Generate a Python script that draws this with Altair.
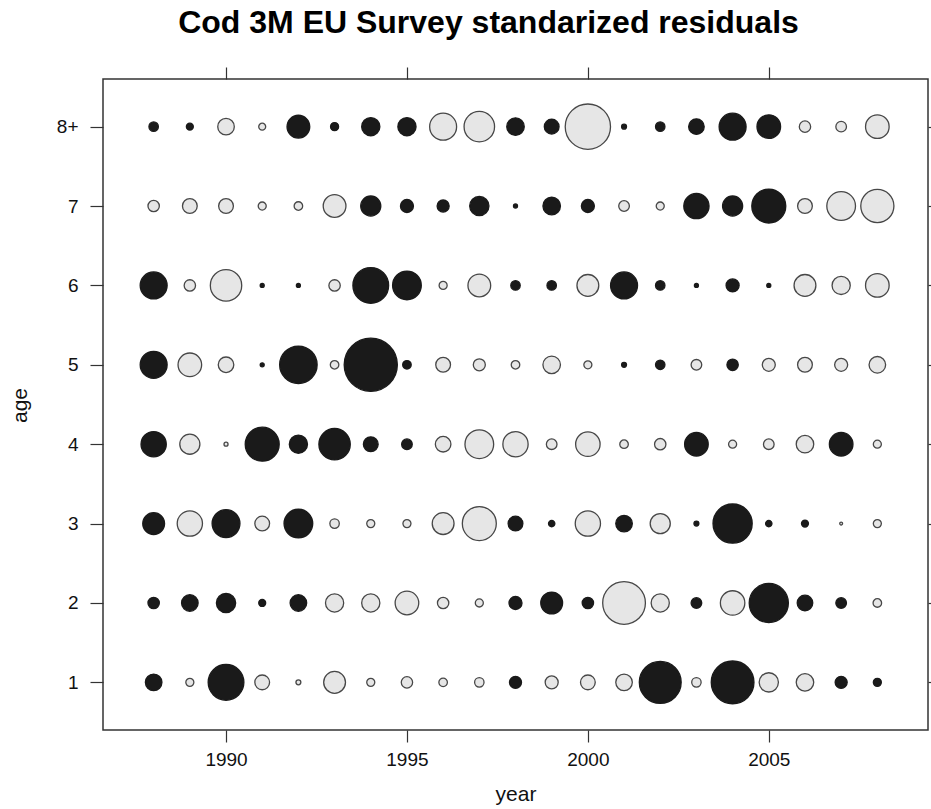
import altair as alt
import pandas as pd

# Survey years and age classes (the last age class is a plus group)
years = list(range(1988, 2009))
ages = ["1", "2", "3", "4", "5", "6", "7", "8+"]

# Standardized residuals by age, one value per year 1988-2008
resid_age1 = [0.34, -0.08, 1.58, -0.27, -0.03, -0.59, -0.08, -0.16, -0.09, -0.11,
              0.18, -0.21, -0.27, -0.34, 2.17, -0.11, 2.26, -0.46, -0.38, 0.18, 0.08]
resid_age2 = [0.16, 0.34, 0.46, 0.06, 0.34, -0.41, -0.41, -0.69, -0.16, -0.08,
              0.21, 0.59, 0.16, -2.26, -0.41, 0.14, -0.74, 1.90, 0.30, 0.14, -0.09]
resid_age3 = [0.59, -0.79, 0.96, -0.27, 1.02, -0.11, -0.08, -0.08, -0.59, -1.43,
              0.27, 0.05, -0.79, 0.34, -0.50, 0.03, 1.90, 0.05, 0.06, -0.01, -0.08]
resid_age4 = [0.79, -0.50, -0.02, 1.43, 0.41, 1.22, 0.27, 0.14, -0.30, -1.02,
              -0.79, -0.14, -0.74, -0.09, -0.16, 0.69, -0.08, -0.14, -0.38, 0.69, -0.08]
resid_age5 = [0.90, -0.69, -0.30, 0.02, 1.74, -0.09, 3.50, 0.09, -0.27, -0.18,
              -0.09, -0.38, -0.08, 0.03, 0.11, -0.14, 0.16, -0.21, -0.27, -0.21, -0.34]
resid_age6 = [0.90, -0.16, -1.22, 0.02, 0.02, -0.16, 1.58, 1.02, -0.08, -0.64,
              0.11, 0.11, -0.59, 0.90, 0.11, 0.02, 0.21, 0.02, -0.59, -0.41, -0.69]
resid_age7 = [-0.16, -0.27, -0.27, -0.08, -0.09, -0.64, 0.50, 0.21, 0.18, 0.46,
              0.02, 0.38, 0.21, -0.14, -0.08, 0.79, 0.50, 1.43, -0.27, -1.02, -1.36]
resid_age8 = [0.11, 0.06, -0.34, -0.06, 0.64, 0.08, 0.41, 0.41, -0.90, -1.15,
              0.38, 0.27, -2.54, 0.03, 0.11, 0.30, 0.90, 0.69, -0.16, -0.14, -0.69]

all_resid = [resid_age1, resid_age2, resid_age3, resid_age4,
             resid_age5, resid_age6, resid_age7, resid_age8]

rows = []
for i, (age, series) in enumerate(zip(ages, all_resid)):
    for yr, r in zip(years, series):
        rows.append({"year": yr, "age": age, "agepos": i + 1,
                     "resid": r, "absr": abs(r)})
df = pd.DataFrame(rows)

FONT = "Liberation Sans"
INK = "#333333"

x_scale = alt.Scale(domain=[1986.6, 2009.4], nice=False, zero=False)
y_scale = alt.Scale(domain=[0.4, 8.6], nice=False, zero=False)
age_label = "datum.value == 8 ? '8+' : format(datum.value, 'd')"

common_axis = dict(domain=False, grid=False, tickColor=INK, tickWidth=1.2,
                   labelFont=FONT, labelFontSize=19, labelColor="#111111",
                   titleFont=FONT, titleFontSize=21, titleColor="#111111",
                   titleFontWeight="normal")

bubbles = alt.Chart(df).mark_circle(opacity=1, strokeWidth=1.3).encode(
    x=alt.X("year:Q", scale=x_scale,
            axis=alt.Axis(orient="bottom", values=[1990, 1995, 2000, 2005],
                          format="d", title="year", tickSize=12, labelPadding=8,
                          titleAnchor="middle", titleBaseline="alphabetic",
                          titleY=70, **common_axis)),
    y=alt.Y("agepos:Q", scale=y_scale,
            axis=alt.Axis(orient="left", values=list(range(1, 9)),
                          labelExpr=age_label, title="age", tickSize=13,
                          labelPadding=12, titleAngle=-90, titleAlign="center",
                          titleBaseline="middle", titleX=-83, titleY=326,
                          **common_axis)),
    size=alt.Size("absr:Q", scale=alt.Scale(domain=[0, 3.5], range=[0, 2827]),
                  legend=None),
    fill=alt.condition(alt.datum.resid > 0, alt.value("#1a1a1a"), alt.value("#e6e6e6")),
    stroke=alt.condition(alt.datum.resid > 0, alt.value("#1a1a1a"), alt.value("#474747")),
)

# Tick marks on the top and right sides of the frame
frame_ticks = alt.Chart(df).mark_circle(opacity=0).encode(
    x=alt.X("year:Q", scale=x_scale,
            axis=alt.Axis(orient="top", values=[1990, 1995, 2000, 2005],
                          labels=False, title=None, tickSize=12, **common_axis)),
    y=alt.Y("agepos:Q", scale=y_scale,
            axis=alt.Axis(orient="right", values=list(range(1, 9)),
                          labels=False, title=None, tickSize=12, **common_axis)),
)

chart = alt.layer(bubbles, frame_ticks).resolve_axis(
    x="independent", y="independent"
).properties(
    width=825,
    height=651,
    background="white",
    autosize=alt.AutoSizeParams(type="none"),
    padding={"left": 103, "top": 79, "right": 3, "bottom": 79},
    title=alt.TitleParams("Cod 3M EU Survey standarized residuals",
                          font=FONT, fontSize=32, fontWeight="bold",
                          color="#000000", anchor="middle", frame="group",
                          dx=-27, offset=26),
).configure_view(
    stroke=INK, strokeWidth=1.5
)

chart.save("out.html", embed_options={"renderer": "svg", "actions": False})
